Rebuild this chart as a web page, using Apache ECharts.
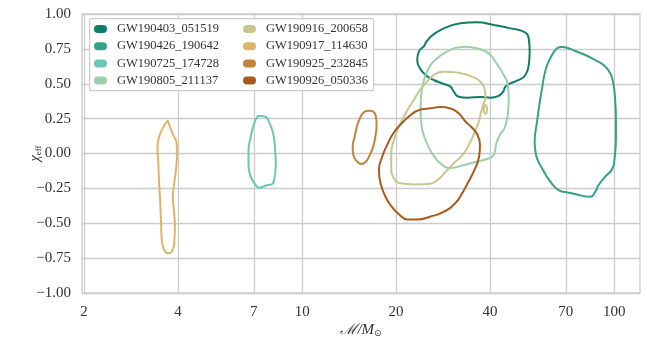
<!DOCTYPE html>
<html><head><meta charset="utf-8">
<script src="https://cdn.jsdelivr.net/npm/echarts@6/dist/echarts.min.js"></script>
<style>html,body{margin:0;padding:0;background:#fff}#c{width:647px;height:345px}</style>
</head><body><div id="c"></div>
<script>
// tick labels
const xTicks = [2, 4, 7, 10, 20, 40, 70, 100];
const yMin = -1, yMax = 1, yStep = 0.25;

// event names (legend order)
const events = ['GW190403_051519', 'GW190426_190642', 'GW190725_174728', 'GW190805_211137',
                'GW190916_200658', 'GW190917_114630', 'GW190925_232845', 'GW190926_050336'];

// contour outlines: [chirp mass, chi_eff]
const gw190403 = [[24.55,0.766],[25.79,0.837],[28.45,0.897],[32.17,0.933],[36.38,0.941],[41.12,0.921],[46.51,0.897],[51.29,0.873],[53.22,0.826],[53.61,0.73],[53.22,0.634],[51.94,0.563],[49.43,0.527],[46.51,0.503],[44.83,0.479],[44.06,0.443],[42.66,0.414],[40.12,0.4],[37.29,0.405],[33.8,0.4],[31.77,0.407],[30.62,0.443],[29.89,0.479],[28.1,0.503],[26.42,0.527],[24.85,0.563],[23.84,0.611],[23.38,0.67],[23.66,0.73],[24.55,0.766]];
const gw190426 = [[68.05,0.766],[70.6,0.758],[75.06,0.735],[80.82,0.706],[86.98,0.67],[92.47,0.634],[97.16,0.575],[99.55,0.491],[100.8,0.371],[101.31,0.252],[101.31,0.109],[100.29,-0.034],[98.82,-0.106],[93.64,-0.166],[89.13,-0.226],[86.98,-0.274],[83.86,-0.31],[76.91,-0.297],[71.45,-0.281],[66.37,-0.262],[62.44,-0.202],[58.73,-0.106],[56.18,-0.011],[55.61,0.085],[56.6,0.228],[57.58,0.348],[58.73,0.467],[60.48,0.611],[63.22,0.706],[65.59,0.754],[68.05,0.766]];
const gw190725 = [[7.32,0.271],[7.61,0.264],[7.83,0.228],[8.07,0.145],[8.19,0.037],[8.23,-0.082],[8.15,-0.178],[7.99,-0.221],[7.74,-0.226],[7.46,-0.24],[7.28,-0.245],[7.07,-0.221],[6.84,-0.166],[6.73,-0.082],[6.73,0.013],[6.84,0.12],[7.02,0.216],[7.19,0.264],[7.32,0.271]];
const gw190805 = [[30.62,0.754],[33.38,0.766],[36.38,0.754],[39.63,0.718],[41.94,0.647],[44.26,0.563],[45.6,0.491],[45.93,0.396],[45.6,0.276],[44.5,0.181],[42.99,0.133],[41.94,0.073],[41.12,-0.011],[39.54,-0.036],[36.38,-0.057],[32.96,-0.082],[29.89,-0.104],[27.76,-0.072],[26.11,0.001],[24.85,0.097],[24.08,0.216],[23.96,0.324],[24.14,0.443],[24.85,0.563],[25.79,0.634],[27.1,0.682],[28.45,0.718],[30.62,0.754]];
const gw190916 = [[26.36,0.563],[28.38,0.586],[30.33,0.584],[32.17,0.575],[35.01,0.551],[37.29,0.515],[38.4,0.467],[38.69,0.407],[38.2,0.36],[37.48,0.3],[36.82,0.228],[35.93,0.168],[34.62,0.085],[32.96,0.001],[30.62,-0.07],[28.8,-0.133],[27.16,-0.19],[25.47,-0.219],[22.8,-0.222],[20.67,-0.214],[19.68,-0.178],[19.3,-0.095],[19.3,0.001],[19.68,0.097],[20.42,0.192],[21.45,0.288],[22.8,0.384],[24.26,0.477],[26.36,0.563]];
const gw190916Island = [[38.69,0.348],[39.05,0.333],[39.15,0.315],[39.05,0.295],[38.69,0.283],[38.3,0.295],[38.2,0.315],[38.3,0.333],[38.69,0.348]];
const gw190917 = [[3.71,0.235],[3.84,0.145],[3.96,0.073],[3.97,0.0],[3.94,-0.118],[3.89,-0.214],[3.85,-0.31],[3.88,-0.405],[3.91,-0.525],[3.89,-0.644],[3.82,-0.704],[3.72,-0.715],[3.61,-0.692],[3.55,-0.62],[3.53,-0.5],[3.51,-0.357],[3.48,-0.214],[3.46,-0.07],[3.44,0.049],[3.48,0.12],[3.57,0.181],[3.71,0.235]];
const gw190925 = [[16.37,0.307],[16.91,0.3],[17.23,0.264],[17.32,0.204],[17.16,0.12],[16.82,0.037],[16.37,-0.023],[15.98,-0.059],[15.48,-0.075],[15.03,-0.059],[14.59,-0.011],[14.52,0.049],[14.73,0.12],[15.03,0.204],[15.4,0.264],[15.86,0.3],[16.37,0.307]];
const gw190926 = [[22.25,0.276],[23.96,0.315],[25.79,0.324],[27.76,0.333],[29.89,0.323],[31.7,0.29],[33.38,0.229],[34.88,0.19],[36.47,0.133],[37.15,0.061],[36.88,-0.025],[35.66,-0.118],[33.87,-0.215],[32.53,-0.287],[31.0,-0.355],[28.38,-0.419],[25.79,-0.452],[23.44,-0.473],[21.77,-0.473],[20.45,-0.437],[19.42,-0.384],[18.51,-0.312],[17.84,-0.215],[17.62,-0.118],[18.04,-0.025],[18.72,0.061],[19.63,0.147],[20.9,0.219],[22.25,0.276]];

const colors = ['#0f7d67', '#37a08b', '#6dc6b3', '#9ccfaa', '#c7c78d', '#ddb469', '#c0843b', '#a85b1c'];
const contours = [gw190403, gw190426, gw190725, gw190805, gw190916, gw190917, gw190925, gw190926];

const serif = 'Liberation Serif';
function contourSeries(name, data, color) {
  return {
    name: name, type: 'line', data: data, showSymbol: false, symbol: 'none',
    smooth: 0.5, color: color, lineStyle: { width: 2, color: color, join: 'round', cap: 'round' },
    emphasis: { disabled: true }, silent: true, z: 2
  };
}
const series = contours.map((d, i) => contourSeries(events[i], d, colors[i]));
series.push(contourSeries(events[4], gw190916Island, colors[4]));

const pill = 'path://M4,0 L9,0 A4,4 0 0 1 9,8 L4,8 A4,4 0 0 1 4,0 Z';
const legendCommon = {
  orient: 'vertical', top: 22, padding: 0, itemWidth: 13, itemHeight: 8, itemGap: 3.2,
  icon: pill, selectedMode: false, z: 10,
  textStyle: { fontFamily: serif, fontSize: 12.5, color: '#333', lineHeight: 14, padding: [0, 0, 0, 5] }
};

const chart = echarts.init(document.getElementById('c'), null, { renderer: 'canvas' });
chart.setOption({
  animation: false,
  backgroundColor: '#fff',
  grid: { left: 82, right: 7, top: 14, bottom: 52, show: true, borderColor: '#cccccc', borderWidth: 1.3, backgroundColor: 'transparent' },
  xAxis: {
    type: 'log', logBase: 10, min: 1.97, max: 121,
    name: '{a|ℳ/M}{b|⊙}', nameLocation: 'middle', nameGap: 29, nameMoveOverlap: false,
    nameTextStyle: { rich: { a: { fontFamily: serif, fontStyle: 'italic', fontSize: 15, color: '#333' }, b: { fontFamily: 'DejaVu Sans', fontSize: 9, color: '#333', padding: [7, 0, 0, 0] } } },
    axisLine: { show: false }, axisTick: { show: false, customValues: xTicks },
    axisLabel: { customValues: xTicks, margin: 12, fontFamily: serif, fontSize: 15, color: '#333', formatter: v => String(v) },
    splitLine: { show: true, lineStyle: { color: '#cccccc', width: 1.3 } },
    minorTick: { show: false }, minorSplitLine: { show: false }
  },
  yAxis: {
    type: 'value', min: yMin, max: yMax, interval: yStep,
    name: '{a|χ}{b|eff}', nameLocation: 'middle', nameGap: 39, nameRotate: 90, nameMoveOverlap: false,
    nameTextStyle: { rich: { a: { fontFamily: serif, fontStyle: 'italic', fontSize: 14, color: '#333' }, b: { fontFamily: serif, fontSize: 9, color: '#333', padding: [6, 0, 0, 0] } } },
    axisLine: { show: false }, axisTick: { show: false },
    axisLabel: { margin: 11, fontFamily: serif, fontSize: 15, color: '#333', formatter: v => (v < 0 ? '\u2212' : '') + Math.abs(v).toFixed(2) },
    splitLine: { show: true, lineStyle: { color: '#cccccc', width: 1.3 } }
  },
  graphic: [{
    type: 'rect', left: 89, top: 18, z: 5,
    shape: { width: 284, height: 72, r: 2 },
    style: { fill: '#ffffff', stroke: '#cccccc', lineWidth: 1.2 }
  }],
  legend: [
    Object.assign({}, legendCommon, { left: 94, data: events.slice(0, 4) }),
    Object.assign({}, legendCommon, { left: 243, data: events.slice(4) })
  ],
  series: series
});
</script>
</body></html>
